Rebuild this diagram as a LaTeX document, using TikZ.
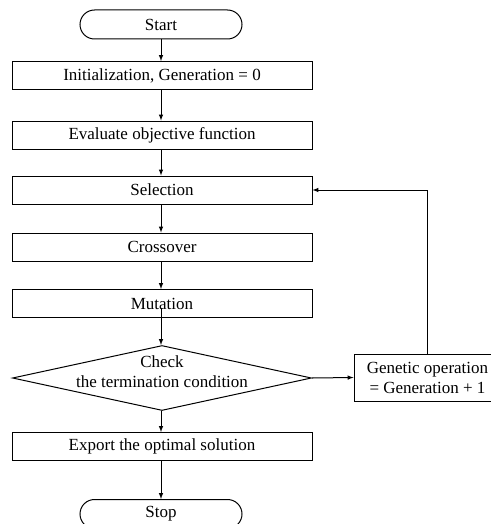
\documentclass[tikz,border=0pt]{standalone}
\usepackage{fontspec}
\setmainfont{Liberation Serif}
\usetikzlibrary{arrows}
\usetikzlibrary{shapes.geometric}
\tikzset{
  stepbox/.style={draw, line width=1pt, minimum width=300pt, minimum height=28pt, inner sep=0pt},
  termbox/.style={draw, line width=1pt, rounded corners=14.5pt, minimum width=162pt, minimum height=29pt, inner sep=0pt},
  checkbox/.style={draw, diamond, line width=1pt, minimum width=299pt, minimum height=65pt, inner sep=0pt},
  flow/.style={line width=1pt, ->, >=latex}
}

\begin{document}
\begin{tikzpicture}[x=1pt, y=-1pt, font=\fontsize{17}{20}\selectfont]
\useasboundingbox (0,0) rectangle (490,524);

\node[termbox] (start) at (161,24.5) {Start};
\node[stepbox] (init) at (162,75.5) {Initialization, Generation = 0};
\node[stepbox] (eval) at (162,135) {Evaluate objective function};
\node[stepbox] (sel) at (162,190) {Selection};
\node[stepbox] (cross) at (162,247) {Crossover};
\node[stepbox] (mut) at (162,303.5) {Mutation};
\node[checkbox] (check) at (162,378) {};
\node[align=center, inner sep=0pt] (checktxt) at (162,372) {Check\\the termination condition};
\node[stepbox, minimum width=147pt, minimum height=47pt, align=center] (genop) at (427.5,377.5) {Genetic operation\\= Generation + 1};
\node[stepbox] (export) at (162,446.5) {Export the optimal solution};
\node[termbox] (stop) at (161,514) {Stop};

% main flow
\draw[flow] (start.south) -- (start.south |- init.north);
\draw[flow] (init.south -| start.south) -- (start.south |- eval.north);
\draw[flow] (eval.south -| start.south) -- (start.south |- sel.north);
\draw[flow] (sel.south -| start.south) -- (start.south |- cross.north);
\draw[flow] (cross.south -| start.south) -- (start.south |- mut.north);
\draw[flow] ([yshift=10pt]mut.south -| start.south) -- (check.north -| start.south);
\draw[flow] (check.south -| start.south) -- (start.south |- export.north);
\draw[flow] (export.south -| start.south) -- (stop.north);

% loop back
\draw[flow] (check.east) -- (genop.west);
\draw[flow] (genop.north) |- (sel.east);
\end{tikzpicture}
\end{document}
